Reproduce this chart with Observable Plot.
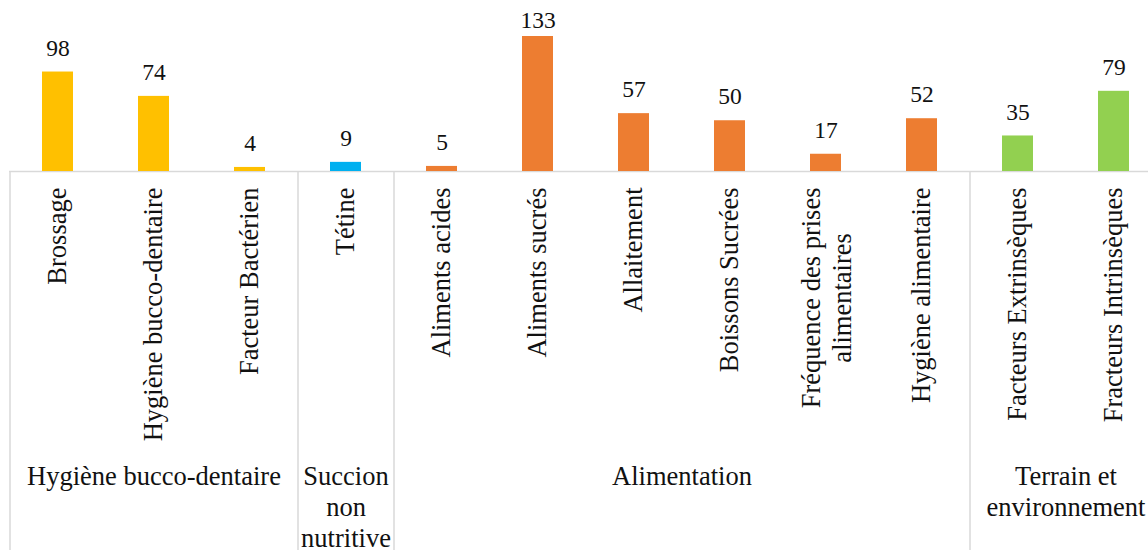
<!DOCTYPE html>
<html>
<head>
<meta charset="utf-8">
<script src="https://cdn.jsdelivr.net/npm/d3@7"></script>
<script src="https://cdn.jsdelivr.net/npm/@observablehq/plot@0.6"></script>
<style>
  body { margin: 0; background: #fff; overflow: hidden; }
  #chart svg { overflow: visible; }
  #chart svg text { font-family: "Liberation Serif", "Times New Roman", serif; }
</style>
</head>
<body>
<div id="chart"></div>
<script>
// ---- data ----
const categories = [
  "Brossage", "Hygiène bucco-dentaire", "Facteur Bactérien",
  "Tétine",
  "Aliments acides", "Aliments sucrés", "Allaitement", "Boissons Sucrées",
  "Fréquence des prises\nalimentaires", "Hygiène alimentaire",
  "Facteurs Extrinsèques", "Fracteurs Intrinsèques"
];
const values = [98, 74, 4, 9, 5, 133, 57, 50, 17, 52, 35, 79];
const groups = ["Hygiène bucco-dentaire", "Succion\nnon\nnutritive", "Alimentation", "Terrain et\nenvironnement"];
const groupSizes = [3, 1, 6, 2];
const groupColors = ["#FFC000", "#00B0F0", "#ED7D31", "#92D050"];

// ---- layout ----
const W = 1148, H = 550;
const X0 = 9, X1 = 1161;            // category band extends past the right edge
const step = (X1 - X0) / categories.length;
const FONT = '"Liberation Serif", "Times New Roman", serif';
const catSize = 26.5, grpSize = 26.5, valSize = 23.5;

// build tables
const rows = [];
const groupRows = [];
let k = 0;
groups.forEach((g, gi) => {
  const first = k;
  for (let j = 0; j < groupSizes[gi]; j++, k++) {
    rows.push({category: categories[k], value: values[k], group: g});
  }
  groupRows.push({
    group: g,
    first: categories[first],
    mid: categories[first + Math.floor((groupSizes[gi] - 1) / 2)],
    even: groupSizes[gi] % 2 === 0
  });
});
const maxVal = d3.max(values);

// measure first line of multi-line category labels
const ctx = document.createElement("canvas").getContext("2d");
ctx.font = `${catSize}px "Liberation Serif"`;
const single = rows.filter(d => !d.category.includes("\n"));
const multi = rows.filter(d => d.category.includes("\n"));

const txt = {fill: "#111", fontFamily: FONT};

const marks = [
  Plot.ruleY([0], {stroke: "#d9d9d9", strokeWidth: 1.5}),
  Plot.barY(rows, {x: "category", y: "value", fill: "group"}),
  Plot.text(rows.filter(d => d.value !== maxVal), {
    x: "category", y: "value", text: d => String(d.value),
    dy: -24, fontSize: valSize, ...txt
  }),
  Plot.text(rows.filter(d => d.value === maxVal), {
    x: "category", y: "value", text: d => String(d.value),
    dy: -16, fontSize: valSize, ...txt
  }),
  Plot.ruleX(groupRows, {
    x: "first", dx: -step / 2, stroke: "#d9d9d9", strokeWidth: 1.5,
    insetTop: 135, insetBottom: -379
  }),
  Plot.text(single, {
    x: "category", text: "category", frameAnchor: "bottom", dy: 16,
    rotate: -90, textAnchor: "end", lineAnchor: "middle",
    fontSize: catSize, ...txt
  }),
  ...multi.map(d => {
    const w = d3.max(d.category.split("\n"), s => ctx.measureText(s).width);
    return Plot.text([d], {
      x: "category", text: "category", frameAnchor: "bottom", dy: 16 + w / 2,
      rotate: -90, textAnchor: "middle", lineAnchor: "middle", lineHeight: 1.17,
      fontSize: catSize, ...txt
    });
  }),
  Plot.text(groupRows.filter(d => !d.even), {
    x: "mid", text: "group", frameAnchor: "bottom", dy: 291,
    lineAnchor: "top", lineHeight: 1.17, fontSize: grpSize, ...txt
  }),
  Plot.text(groupRows.filter(d => d.even), {
    x: "mid", text: "group", frameAnchor: "bottom", dy: 291, dx: step / 2,
    lineAnchor: "top", lineHeight: 1.17, fontSize: grpSize, ...txt
  })
];

const chart = Plot.plot({
  width: W,
  height: H,
  marginTop: 36,
  marginBottom: 379,
  marginLeft: X0,
  marginRight: 0,
  style: {fontFamily: FONT, background: "#fff", overflow: "visible"},
  x: {domain: categories, range: [X0, X1], paddingInner: 0.68, paddingOuter: 0.34, axis: null},
  y: {domain: [0, maxVal], axis: null},
  color: {domain: groups, range: groupColors},
  marks
});
document.getElementById("chart").appendChild(chart);
</script>
</body>
</html>
